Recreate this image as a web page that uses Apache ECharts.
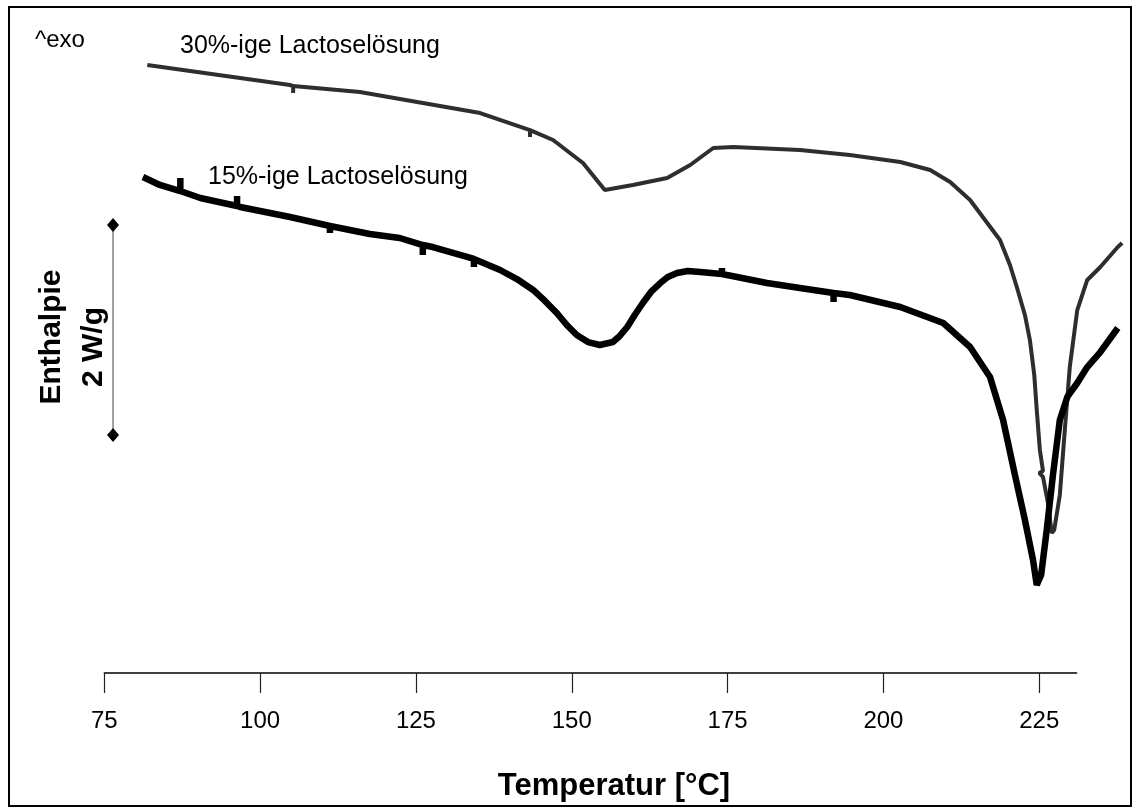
<!DOCTYPE html>
<html>
<head>
<meta charset="utf-8">
<script src="https://cdn.jsdelivr.net/npm/echarts@6/dist/echarts.min.js"></script>
<style>
html,body{margin:0;padding:0;background:#fff;}
#chart{width:1139px;height:809px;}
</style>
</head>
<body>
<div id="chart"></div>
<script>
// X axis ticks (°C)
const xTicks = [75, 100, 125, 150, 175, 200, 225];
const xMin = 75, xAxisEnd = 231, xDataEnd = 240;

// 30%-ige Lactoselösung: [Temperatur °C, Wärmestrom (W/g, relativer Versatz)]
const curve30 = [
  [81.9, 5.790], [104.8, 5.600], [105.3, 5.590], [105.3, 5.524], [105.3, 5.590],
  [116.0, 5.533], [135.3, 5.333], [143.3, 5.171], [143.3, 5.105], [143.3, 5.171],
  [147.0, 5.076], [151.8, 4.857], [155.3, 4.600], [159.8, 4.648], [165.3, 4.714],
  [169.0, 4.838], [172.7, 5.000], [175.9, 5.010], [186.6, 4.981], [194.6, 4.933],
  [202.7, 4.867], [207.5, 4.790], [210.7, 4.676], [213.9, 4.505], [216.3, 4.314],
  [218.7, 4.124], [220.3, 3.886], [221.4, 3.676], [222.7, 3.410], [223.5, 3.171],
  [224.2, 2.838], [224.6, 2.505], [225.1, 2.124], [225.6, 1.924], [225.0, 1.905],
  [225.6, 1.867], [226.4, 1.619], [227.0, 1.333], [227.4, 1.362], [228.3, 1.695],
  [229.1, 2.314], [229.9, 2.914], [231.1, 3.457], [232.7, 3.743], [234.8, 3.867],
  [237.6, 4.057], [238.3, 4.095]
];

// 15%-ige Lactoselösung
const curve15 = [
  [81.2, 4.724], [83.9, 4.648], [87.2, 4.590], [87.2, 4.714], [87.2, 4.590],
  [90.4, 4.524], [96.3, 4.448], [96.3, 4.543], [96.3, 4.448], [96.8, 4.438],
  [104.8, 4.343], [111.2, 4.257], [111.2, 4.190], [111.2, 4.257], [117.6, 4.181],
  [122.4, 4.143], [126.1, 4.076], [126.1, 3.981], [126.1, 4.076], [127.7, 4.057],
  [133.2, 3.962], [134.3, 3.943], [134.3, 3.867], [134.3, 3.943], [138.5, 3.838],
  [141.2, 3.752], [143.8, 3.648], [145.7, 3.543], [147.6, 3.429], [149.2, 3.314],
  [150.8, 3.219], [152.6, 3.152], [154.5, 3.124], [156.6, 3.152], [157.7, 3.210],
  [158.9, 3.295], [160.1, 3.410], [161.4, 3.524], [162.7, 3.629], [164.2, 3.714],
  [165.4, 3.771], [166.9, 3.810], [168.6, 3.829], [170.6, 3.819], [174.1, 3.800],
  [174.1, 3.857], [174.1, 3.800], [174.9, 3.790], [181.3, 3.714], [186.6, 3.667],
  [192.0, 3.619], [192.0, 3.533], [192.0, 3.619], [194.6, 3.600], [202.7, 3.486],
  [209.6, 3.333], [213.9, 3.105], [217.1, 2.819], [219.2, 2.410], [221.1, 1.886],
  [222.7, 1.457], [224.0, 1.076], [224.6, 0.838], [225.3, 0.933], [226.2, 1.362],
  [227.2, 1.886], [228.3, 2.410], [229.5, 2.629], [231.1, 2.762], [232.7, 2.914],
  [234.8, 3.057], [237.6, 3.286]
];

// Scale bar: 2 W/g
const scaleBar = [[76.4, 4.267], [76.4, 2.267]];

const FONT = "'Liberation Sans', Arial, sans-serif";
const PX_PER_DEG = 6.233, LEFT = 104.3, W = 1139;
const chart = echarts.init(document.getElementById('chart'), null, {renderer: 'canvas'});

chart.setOption({
  animation: false,
  backgroundColor: '#ffffff',
  grid: [
    // visible axis: 75 .. 231
    {left: LEFT, right: W - (LEFT + (xAxisEnd - xMin) * PX_PER_DEG), top: 43, bottom: 136},
    // data area: 75 .. 240 (same scale, curves run past the axis end)
    {left: LEFT, right: W - (LEFT + (xDataEnd - xMin) * PX_PER_DEG), top: 43, bottom: 136}
  ],
  xAxis: [
    {
      gridIndex: 0, type: 'value', min: xMin, max: xAxisEnd, interval: 25,
      splitLine: {show: false},
      axisLine: {show: true, lineStyle: {color: '#000', width: 1.5}},
      axisTick: {show: true, inside: false, length: 20, customValues: xTicks,
                 lineStyle: {color: '#222', width: 1.2}},
      axisLabel: {show: true, customValues: xTicks, margin: 36, color: '#000',
                  fontSize: 24, fontFamily: FONT}
    },
    {gridIndex: 1, type: 'value', min: xMin, max: xDataEnd, show: false, splitLine: {show: false}}
  ],
  yAxis: [
    {gridIndex: 0, type: 'value', min: 0, max: 6, show: false},
    {gridIndex: 1, type: 'value', min: 0, max: 6, show: false}
  ],
  series: [
    {
      name: '30%-ige Lactoselösung', type: 'line', data: curve30,
      xAxisIndex: 1, yAxisIndex: 1,
      showSymbol: false, smooth: false,
      lineStyle: {color: '#2e2e2e', width: 4}
    },
    {
      name: '15%-ige Lactoselösung', type: 'line', data: curve15,
      xAxisIndex: 1, yAxisIndex: 1,
      showSymbol: false, smooth: false,
      lineStyle: {color: '#000', width: 6.5}
    },
    {
      name: 'Skala', type: 'line', data: scaleBar,
      xAxisIndex: 1, yAxisIndex: 1,
      symbol: 'diamond', symbolSize: [12, 14], showSymbol: true,
      itemStyle: {color: '#000'},
      lineStyle: {color: '#444', width: 1}
    }
  ],
  graphic: [
    {type: 'rect', shape: {x: 9, y: 7, width: 1122, height: 799},
     style: {fill: 'none', stroke: '#000', lineWidth: 2}, z: 100},
    {type: 'text', x: 35, y: 40,
     style: {text: '^exo', font: '24px ' + FONT, fill: '#000', verticalAlign: 'middle'}},
    {type: 'text', x: 180, y: 46,
     style: {text: '30%-ige Lactoselösung', font: '25px ' + FONT, fill: '#000', verticalAlign: 'middle'}},
    {type: 'text', x: 208, y: 177,
     style: {text: '15%-ige Lactoselösung', font: '25px ' + FONT, fill: '#000', verticalAlign: 'middle'}},
    {type: 'text', x: 52, y: 337, rotation: Math.PI / 2,
     style: {text: 'Enthalpie', font: 'bold 30px ' + FONT, fill: '#000', align: 'center', verticalAlign: 'middle'}},
    {type: 'text', x: 94, y: 347, rotation: Math.PI / 2,
     style: {text: '2 W/g', font: 'bold 30px ' + FONT, fill: '#000', align: 'center', verticalAlign: 'middle'}},
    {type: 'text', x: 614, y: 786,
     style: {text: 'Temperatur [°C]', font: 'bold 31px ' + FONT, fill: '#000', align: 'center', verticalAlign: 'middle'}}
  ]
});
</script>
</body>
</html>
